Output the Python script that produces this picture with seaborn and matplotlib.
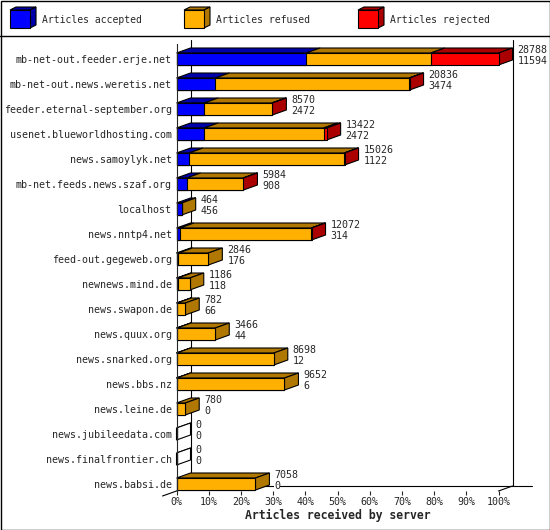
import numpy as np
import pandas as pd
import matplotlib
matplotlib.use("Agg")
import matplotlib.pyplot as plt
import seaborn as sns
from matplotlib.patches import Polygon, Rectangle

hosts = ["mb-net-out.feeder.erje.net", "mb-net-out.news.weretis.net",
         "feeder.eternal-september.org", "usenet.blueworldhosting.com",
         "news.samoylyk.net", "mb-net.feeds.news.szaf.org", "localhost",
         "news.nntp4.net", "feed-out.gegeweb.org", "newnews.mind.de",
         "news.swapon.de", "news.quux.org", "news.snarked.org", "news.bbs.nz",
         "news.leine.de", "news.jubileedata.com", "news.finalfrontier.ch",
         "news.babsi.de"]
offered = [28788, 20836, 8570, 13422, 15026, 5984, 464, 12072, 2846, 1186,
           782, 3466, 8698, 9652, 780, 0, 0, 7058]
accepted = [11594, 3474, 2472, 2472, 1122, 908, 456, 314, 176, 118, 66, 44,
            12, 6, 0, 0, 0, 0]
refused = [11141, 17322, 6048, 10680, 13874, 5056, 8, 11728, 2670, 1068, 716,
           3422, 8686, 9646, 780, 0, 0, 7058]
rejected = [6053, 40, 50, 270, 30, 20, 0, 30, 0, 0, 0, 0, 0, 0, 0, 0, 0, 0]

series = ["Articles accepted", "Articles refused", "Articles rejected"]
front_cols = ["#0000FF", "#FFB000", "#FF0000"]
dark_cols = ["#0000AA", "#B07800", "#AA0000"]

sns.set_style("white")
plt.rcParams['font.family'] = ['DejaVu Sans Mono']
plt.rcParams['font.size'] = 7.2

scale = 100.0 / max(offered)
df = pd.DataFrame({
    "host": hosts,
    "acc": np.array(accepted) * scale,
    "accref": (np.array(accepted) + np.array(refused)) * scale,
    "total": (np.array(accepted) + np.array(refused) + np.array(rejected)) * scale,
})

W, H = 550, 530
fig = plt.figure(figsize=(W / 100, H / 100), dpi=100)

# frame + legend strip (pixel coords)
lax = fig.add_axes([0, 0, 1, 1])
lax.set_xlim(0, W)
lax.set_ylim(H, 0)
lax.axis("off")
lax.add_patch(Rectangle((0.5, 0.5), W - 1, H - 1, fill=False, ec="black", lw=1))
lax.plot([0, W], [35.5, 35.5], color="black", lw=1)
for k, (lab, fc, dc) in enumerate(zip(series, front_cols, dark_cols)):
    x0 = [10, 184, 358][k]
    lax.add_patch(Polygon([(x0, 10), (x0 + 20, 10), (x0 + 26, 7), (x0 + 6, 7)],
                          closed=True, fc=dc, ec="black", lw=0.8))
    lax.add_patch(Polygon([(x0 + 20, 10), (x0 + 20, 28), (x0 + 26, 25), (x0 + 26, 7)],
                          closed=True, fc=dc, ec="black", lw=0.8))
    lax.add_patch(Rectangle((x0, 10), 20, 18, fc=fc, ec="black", lw=0.8))
    lax.text(x0 + 32, 20, lab, va="center", ha="left", fontsize=7.0)

# main chart: 0% at x=176.5px, 100% at 498.5px; rows 25px apart
px_x = 322 / 100.0
top_px, bot_px = 44, 491
ax = fig.add_axes([176.5 / W, 1 - bot_px / H, 322 / W, (bot_px - top_px) / H])
ax.set_facecolor("none")

bh = 0.48
sns.barplot(data=df, y="host", x="total", color=front_cols[2], saturation=1,
            edgecolor="black", linewidth=0.8, width=bh, ax=ax, zorder=5)
sns.barplot(data=df, y="host", x="accref", color=front_cols[1], saturation=1,
            edgecolor="black", linewidth=0.8, width=bh, ax=ax, zorder=6)
sns.barplot(data=df, y="host", x="acc", color=front_cols[0], saturation=1,
            edgecolor="black", linewidth=0.8, width=bh, ax=ax, zorder=7)
for p in ax.patches:
    p.set_clip_on(False)

ddx = 14 / px_x   # 3D depth offset in percent
ddy = 0.2         # 3D depth offset in rows
ax.set_xlim(0, 100)
ax.set_ylim((bot_px - 59) / 25.0, (top_px - 59) / 25.0)

for i in range(len(hosts)):
    segs = [(0, df.acc[i]), (df.acc[i], df.accref[i]), (df.accref[i], df.total[i])]
    yt, yb = i - bh / 2, i + bh / 2
    side = "white"
    for (a, b), dc in zip(segs, dark_cols):
        if b - a > 0:
            ax.add_patch(Polygon([(a, yt), (b, yt), (b + ddx, yt - ddy), (a + ddx, yt - ddy)],
                                 closed=True, fc=dc, ec="black", lw=0.8, zorder=4,
                                 clip_on=False))
            side = dc
    e = df.total[i]
    if e == 0:
        ax.plot([0, ddx], [yt, yt - ddy], color="black", lw=0.8, zorder=4)
    ax.add_patch(Polygon([(e, yb), (e, yt), (e + ddx, yt - ddy), (e + ddx, yb - ddy)],
                         closed=True, fc=side, ec="black", lw=0.8, zorder=4,
                         clip_on=False))
    tx = e + ddx + 5 / px_x
    ax.text(tx, i - 0.36, str(offered[i]), va="center", ha="left", clip_on=False,
            bbox=dict(fc="white", ec="none", pad=0), zorder=8)
    ax.text(tx, i + 0.08, str(accepted[i]), va="center", ha="left", clip_on=False,
            bbox=dict(fc="white", ec="none", pad=0), zorder=8)

# back wall / floor lines
ytop_back = (40 - 59) / 25.0
yfloor = (486 - 59) / 25.0
yfront = (bot_px - 59) / 25.0
kw = dict(color="black", lw=0.8, clip_on=False, zorder=1)
ax.plot([ddx, ddx], [ytop_back, yfloor], **kw)
ax.plot([100 + ddx, 100 + ddx], [ytop_back, yfloor], **kw)
ax.plot([ddx, (532 - 176.5) / px_x], [yfloor, yfloor], **kw)
ax.plot([-ddx, ddx], [yfront + ddy, yfloor], **kw)
ax.plot([100, 100 + ddx], [yfront, yfloor], **kw)

sns.despine(ax=ax, top=True, right=True, bottom=True, left=False)
ax.spines["left"].set_linewidth(0.8)
ax.spines["left"].set_zorder(9)
ax.set_xticks(np.arange(0, 101, 10))
ax.set_xticklabels([f"{t}%" for t in range(0, 101, 10)])
ax.tick_params(axis="x", bottom=True, direction="out", length=3, width=0.8, pad=1.5,
               labelsize=7.2)
ax.tick_params(axis="y", left=False, length=0, pad=3.5, labelsize=7.2)
ax.set_ylabel("")
ax.set_xlabel("Articles received by server", fontsize=8.3, fontweight="bold", labelpad=1)

fig.savefig("out.png", dpi=100)
